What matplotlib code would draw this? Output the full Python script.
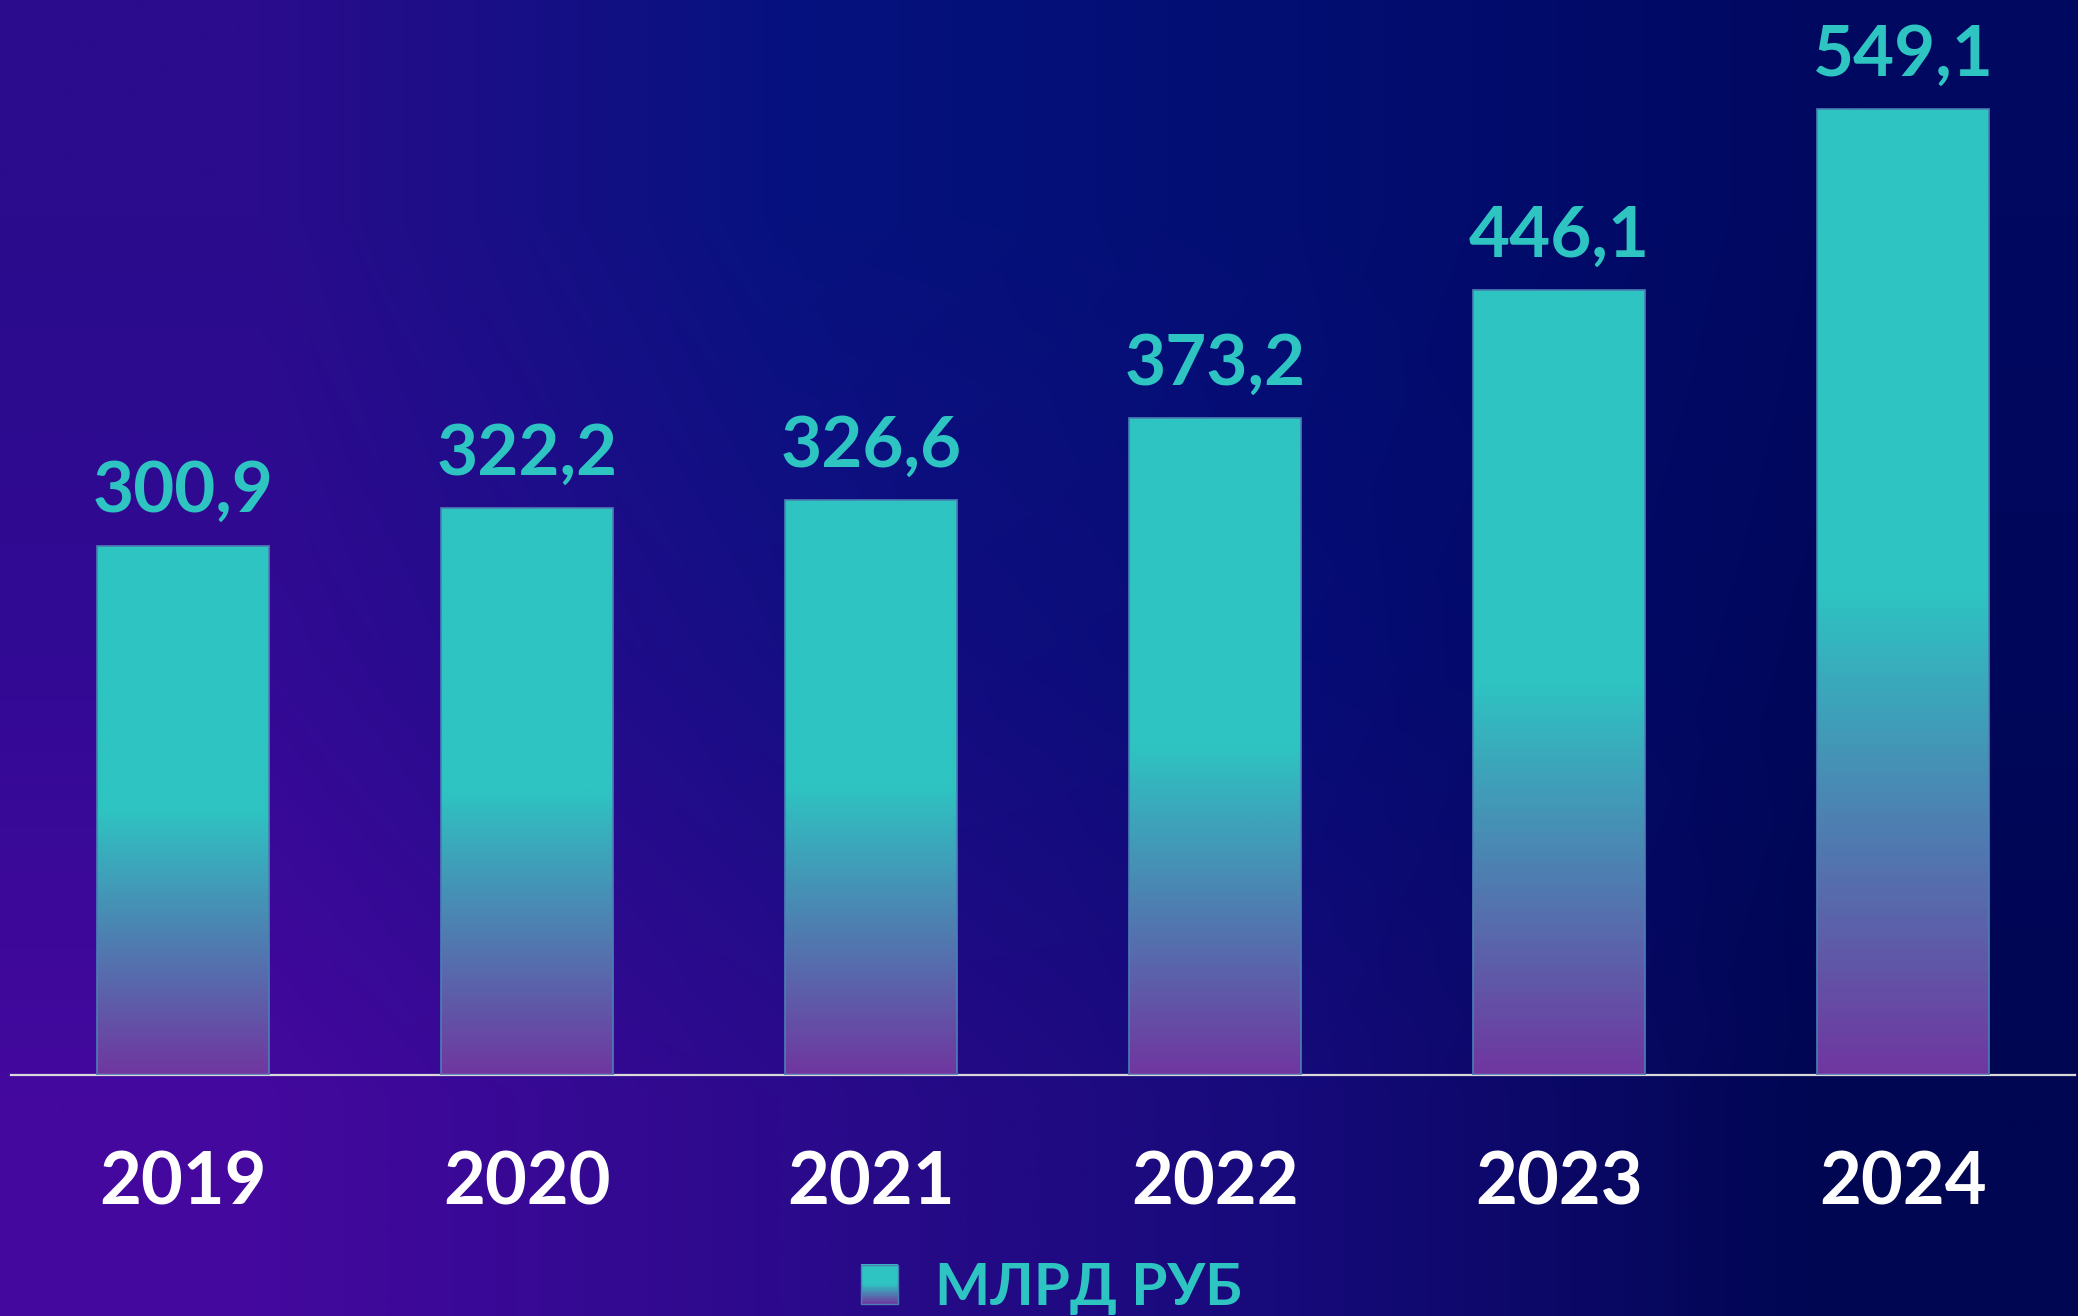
import numpy as np
import matplotlib
matplotlib.use("Agg")
import matplotlib.pyplot as plt
from matplotlib.colors import LinearSegmentedColormap, to_rgb
from matplotlib.patches import Rectangle
from matplotlib.legend_handler import HandlerBase

plt.rcParams['font.family'] = ['Lato', 'Noto Sans', 'DejaVu Sans']

# data (млрд руб по годам)
years = ["2019", "2020", "2021", "2022", "2023", "2024"]
values = [300.9, 322.2, 326.6, 373.2, 446.1, 549.1]
value_labels = ["300,9", "322,2", "326,6", "373,2", "446,1", "549,1"]
series_name = "МЛРД РУБ"

TEAL = "#2EC4C2"
PURPLE = "#7036A0"
EDGE = "#4A7FB5"

# bar fill: purple at the bottom, teal from the middle up
bar_cmap = LinearSegmentedColormap.from_list(
    "bar", [(0.0, PURPLE), (0.5, TEAL), (1.0, TEAL)])

# background colours on a coarse grid (rows top->bottom, cols left->right)
bg_grid = [
    ["#2A0C8C", "#06127F", "#030E72", "#000860"],
    ["#320A94", "#160E84", "#060C76", "#00075A"],
    ["#44089E", "#2C0A8C", "#160A7A", "#000652"],
]

fig = plt.figure(figsize=(20.78, 13.16), dpi=100)

bg = fig.add_axes([0, 0, 1, 1], zorder=-10)
bg_rgb = np.array([[to_rgb(c) for c in row] for row in bg_grid])
bg.imshow(bg_rgb, aspect="auto", interpolation="bilinear", extent=(0, 1, 0, 1))
bg.set_axis_off()

ax = fig.add_axes([11 / 2078, 241 / 1316, 2064 / 2078, 1075 / 1316])
ax.patch.set_alpha(0)
x = np.arange(len(years))

bars = ax.bar(x, values, width=0.5, facecolor="none", edgecolor=EDGE,
              linewidth=1.2, zorder=3)
grad = np.linspace(0, 1, 256).reshape(-1, 1)
for b in bars:
    x0, y0 = b.get_x(), b.get_y()
    w, h = b.get_width(), b.get_height()
    im = ax.imshow(grad, cmap=bar_cmap, origin="lower", aspect="auto",
                   extent=(x0, x0 + w, y0, y0 + h), zorder=2)
    im.set_clip_path(b)
ax.set_xlim(-0.5, len(years) - 0.5)
ax.set_ylim(0, 611)

for xi, v, lab in zip(x, values, value_labels):
    ax.annotate(lab, (xi, v), xytext=(0, 24), textcoords="offset points",
                ha="center", va="baseline", fontsize=51, fontweight="bold",
                color=TEAL)

ax.set_xticks(x)
ax.set_xticklabels(years, fontsize=52, fontweight="bold", color="white")
for lab in ax.get_xticklabels():
    lab.set_verticalalignment("baseline")
ax.tick_params(axis="x", length=0, pad=93)
ax.set_yticks([])
for s in ["left", "right", "top"]:
    ax.spines[s].set_visible(False)
ax.spines["bottom"].set_color("#D9D9D9")
ax.spines["bottom"].set_linewidth(1.6)


class GradientHandler(HandlerBase):
    def create_artists(self, legend, orig_handle, xdescent, ydescent,
                       width, height, fontsize, trans):
        n = 24
        arts = []
        for k in range(n):
            c = bar_cmap((k + 0.5) / n)
            arts.append(Rectangle((-xdescent, -ydescent + height * k / n),
                                  width, height / n * 1.05, facecolor=c,
                                  edgecolor="none", transform=trans))
        arts.append(Rectangle((-xdescent, -ydescent), width, height,
                              facecolor="none", edgecolor=EDGE, lw=1.0,
                              transform=trans))
        return arts


proxy = Rectangle((0, 0), 1, 1)
leg = fig.legend(handles=[proxy], labels=[series_name],
                 handler_map={proxy: GradientHandler()},
                 loc="lower center", bbox_to_anchor=(0.506, 0.001),
                 frameon=False, borderpad=0, borderaxespad=0,
                 handlelength=0.64, handleheight=0.66, handletextpad=0.64,
                 prop={"size": 42, "weight": "bold"})
for t in leg.get_texts():
    t.set_color(TEAL)

fig.savefig("out.png", dpi=100)
